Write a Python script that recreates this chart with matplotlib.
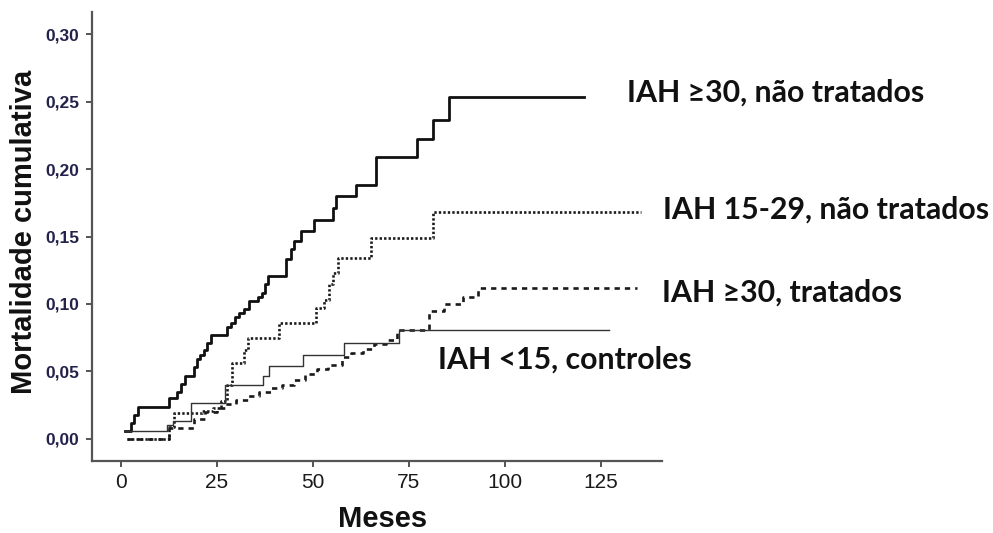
import matplotlib
matplotlib.use('Agg')
import matplotlib.pyplot as plt

# Mortalidade cumulativa (Kaplan-Meier) por grupo
# IAH >=30, nao tratados (linha grossa)
t_iah30_nt = [1.0, 2.6, 3.5, 4.5, 12.6, 14.5, 15.5, 16.8, 19.0, 19.8, 20.6, 21.5, 22.5, 23.5,
              27.5, 28.6, 29.6, 30.8, 32.0, 33.3, 35.8, 36.6, 37.4, 38.2, 42.9, 44.2, 45.1,
              46.9, 50.3, 55.2, 56.0, 61.3, 66.5, 77.0, 81.3, 85.3, 120.5]
m_iah30_nt = [0.006, 0.012, 0.018, 0.024, 0.030, 0.035, 0.041, 0.047, 0.053, 0.059, 0.062, 0.066,
              0.071, 0.077, 0.083, 0.086, 0.090, 0.093, 0.096, 0.102, 0.105, 0.108, 0.115, 0.121,
              0.133, 0.141, 0.147, 0.154, 0.162, 0.171, 0.180, 0.188, 0.209, 0.222, 0.236, 0.253,
              0.253]

# IAH 15-29, nao tratados (pontilhado)
t_iah15_nt = [1.5, 12.5, 13.8, 21.0, 24.0, 26.0, 27.5, 29.0, 32.0, 33.0, 41.2, 50.8, 52.8,
              54.3, 55.3, 56.5, 65.2, 81.3, 135.5]
m_iah15_nt = [0.000, 0.009, 0.019, 0.021, 0.023, 0.028, 0.040, 0.056, 0.066, 0.075, 0.086, 0.097,
              0.103, 0.115, 0.123, 0.134, 0.149, 0.168, 0.168]

# IAH >=30, tratados (tracejado)
t_iah30_t = [1.5, 12.5, 19.0, 22.0, 25.0, 27.0, 30.0, 33.0, 36.0, 39.0, 42.0, 45.0, 48.0, 51.0,
             54.0, 57.5, 60.0, 63.0, 66.0, 69.0, 72.0, 80.3, 84.0, 89.0, 93.0, 134.5]
m_iah30_t = [0.000, 0.008, 0.015, 0.020, 0.023, 0.026, 0.029, 0.032, 0.035, 0.038, 0.040, 0.044,
             0.048, 0.052, 0.055, 0.061, 0.064, 0.067, 0.070, 0.073, 0.081, 0.095, 0.100, 0.105,
             0.112, 0.112]

# IAH <15, controles (linha fina)
t_ctrl = [1.0, 12.0, 13.5, 18.3, 27.2, 37.0, 38.5, 47.3, 58.2, 72.4, 127.0]
m_ctrl = [0.006, 0.010, 0.013, 0.027, 0.040, 0.047, 0.054, 0.062, 0.071, 0.081, 0.081]

x_ticks = [0, 25, 50, 75, 100, 125]
y_ticks = [0.00, 0.05, 0.10, 0.15, 0.20, 0.25, 0.30]

W, H = 993, 533


def fx(px):
    return px / W


def fy(py):
    return 1 - py / H


fig = plt.figure(figsize=(9.93, 5.33), dpi=100)
ax = fig.add_axes([fx(92), fy(461), fx(662) - fx(92), fy(12) - fy(461)])

ax.step(t_iah30_nt, m_iah30_nt, where='post', color='#111111', lw=2.0)
ax.step(t_iah15_nt, m_iah15_nt, where='post', color='#1a1a1a', lw=1.9, dashes=(0.9, 0.8))
ax.step(t_iah30_t, m_iah30_t, where='post', color='#1a1a1a', lw=1.9, dashes=(2.0, 1.9))
ax.step(t_ctrl, m_ctrl, where='post', color='#333333', lw=1.0)

ax.set_xlim(-7.55, 140.9)
ax.set_ylim(-0.0163, 0.3163)

# eixos: so esquerda e baixo
for side in ['top', 'right']:
    ax.spines[side].set_visible(False)
for side in ['left', 'bottom']:
    ax.spines[side].set_color('#555555')
    ax.spines[side].set_linewidth(1.6)

ax.set_xticks(x_ticks)
ax.set_xticklabels([str(v) for v in x_ticks], fontsize=15, family='Liberation Sans', color='#1a1a1a')
ax.set_yticks(y_ticks)
ax.set_yticklabels([f"{v:.2f}".replace('.', ',') for v in y_ticks], fontsize=12.5,
                   family='Liberation Sans', fontweight='bold', color='#22224a')
ax.tick_params(axis='both', direction='out', length=4, width=1.4, color='#555555', pad=5)

# titulos dos eixos
fig.text(fx(24), fy(232), 'Mortalidade cumulativa', rotation=90, ha='center', va='center',
         fontsize=21, fontweight='bold', family='Liberation Sans', color='#111111')
fig.text(fx(383), fy(527), 'Meses', ha='center', va='baseline',
         fontsize=21, fontweight='bold', family='Liberation Sans', color='#111111')

# rotulos das curvas
lab_font = dict(fontsize=21.8, fontweight='bold', family=['Lato', 'DejaVu Sans'], color='#111111',
                va='baseline', ha='left')
fig.text(fx(627), fy(101.7), 'IAH ≥30, não tratados', **lab_font)
fig.text(fx(663), fy(218.3), 'IAH 15-29, não tratados', **lab_font)
fig.text(fx(662), fy(301.7), 'IAH ≥30, tratados', **lab_font)
fig.text(fx(438), fy(368.3), 'IAH <15, controles', **lab_font)

fig.savefig('out.png', dpi=100)
